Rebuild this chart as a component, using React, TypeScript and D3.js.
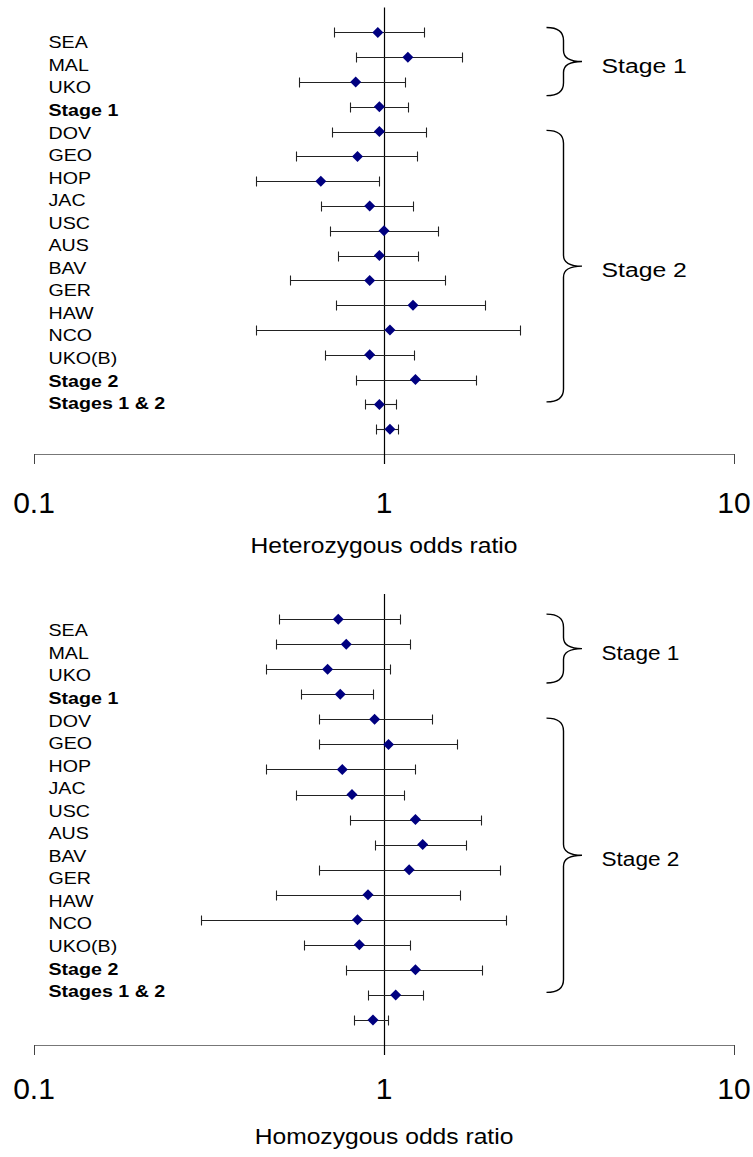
import React from "react";
import * as d3 from "d3";

const labels = ["SEA", "MAL", "UKO", "Stage 1", "DOV", "GEO", "HOP", "JAC", "USC", "AUS", "BAV", "GER", "HAW", "NCO", "UKO(B)", "Stage 2", "Stages 1 & 2"];
const boldLabels = ["Stage 1", "Stage 2", "Stages 1 & 2"];

const hetOR = [0.96, 1.17, 0.83, 0.97, 0.97, 0.84, 0.66, 0.91, 1.0, 0.97, 0.91, 1.21, 1.04, 0.91, 1.23, 0.97, 1.04];
const hetLo = [0.72, 0.83, 0.57, 0.8, 0.71, 0.56, 0.43, 0.66, 0.7, 0.74, 0.54, 0.73, 0.43, 0.68, 0.83, 0.88, 0.95];
const hetHi = [1.3, 1.67, 1.15, 1.17, 1.32, 1.24, 0.97, 1.21, 1.43, 1.25, 1.49, 1.94, 2.44, 1.22, 1.83, 1.08, 1.1];

const homOR = [0.74, 0.78, 0.69, 0.75, 0.94, 1.03, 0.76, 0.81, 1.23, 1.29, 1.18, 0.9, 0.84, 0.85, 1.23, 1.08, 0.93];
const homLo = [0.5, 0.49, 0.46, 0.58, 0.65, 0.65, 0.46, 0.56, 0.8, 0.94, 0.65, 0.49, 0.3, 0.59, 0.78, 0.9, 0.82];
const homHi = [1.11, 1.19, 1.04, 0.93, 1.37, 1.62, 1.23, 1.14, 1.89, 1.72, 2.14, 1.65, 2.23, 1.19, 1.9, 1.29, 1.03];

const tickValues = [0.1, 1, 10];
const tickLabels = ["0.1", "1", "10"];
// brace extents in row units (row 0 = first point row)
const groups = [
  { name: "Stage 1", start: -0.2, end: 2.55 },
  { name: "Stage 2", start: 3.95, end: 14.9 },
];

const FONT = "'Liberation Sans', Arial, Helvetica, sans-serif";

const x = d3.scaleLog().domain([0.1, 10]).range([34, 734]);

function T(props: any) {
  const { x, y, sx = 1, size, weight = "normal", anchor = "start", children } = props;
  return (
    <text
      transform={`translate(${x},${y}) scale(${sx},1)`}
      fontFamily={FONT}
      fontSize={size}
      fontWeight={weight}
      textAnchor={anchor}
      fill="#000"
    >
      {children}
    </text>
  );
}

function bracePath(left: number, stroke: number, tip: number, top: number, bottom: number, mid: number) {
  const r = 13;
  const r2 = 11;
  const p = d3.path();
  p.moveTo(left, top);
  p.quadraticCurveTo(stroke, top, stroke, top + r);
  p.lineTo(stroke, mid - r2);
  p.quadraticCurveTo(stroke, mid, tip, mid);
  p.quadraticCurveTo(stroke, mid, stroke, mid + r2);
  p.lineTo(stroke, bottom - r);
  p.quadraticCurveTo(stroke, bottom, left, bottom);
  return p.toString();
}

function Panel(props: any) {
  const { or, lo, hi, axisY, step, labelY0, labelStep, title, groupTextSize, groupSx, tickLabelOffset } = props;
  const n = labels.length;
  const y = d3.scaleLinear().domain([0, n + 1]).range([axisY, axisY - (n + 1) * step]);
  const rowY = (i: number) => y(n - i);
  const cx = Math.round(x(1)) + 0.5;
  return (
    <g>
      {labels.map((l, i) => (
        <T
          key={l}
          x={48.5}
          y={labelY0 + i * labelStep}
          sx={1.19}
          size={16.5}
          weight={boldLabels.includes(l) ? "bold" : "normal"}
        >
          {l}
        </T>
      ))}
      {/* axis */}
      <line x1={x(0.1)} x2={x(10)} y1={axisY + 0.5} y2={axisY + 0.5} stroke="#777" strokeWidth={1.2} />
      {tickValues.map((t) => (
        <line key={t} x1={Math.round(x(t)) + 0.5} x2={Math.round(x(t)) + 0.5} y1={axisY} y2={axisY + 10} stroke="#444" strokeWidth={1} />
      ))}
      <line x1={cx} x2={cx} y1={y(n + 1)} y2={axisY + 10} stroke="#000" strokeWidth={1.2} />
      {tickValues.map((t, i) => (
        <T key={"l" + t} x={x(t)} y={axisY + tickLabelOffset} size={30} anchor="middle">
          {tickLabels[i]}
        </T>
      ))}
      <T x={x(1)} y={axisY + 99} size={22.4} sx={1.1} anchor="middle">
        {title}
      </T>
      {/* error bars */}
      {labels.map((l, i) => {
        const yy = Math.round(rowY(i)) + 0.5;
        const a = Math.round(x(lo[i])) + 0.5;
        const b = Math.round(x(hi[i])) + 0.5;
        return (
          <g key={"e" + l}>
            <line x1={a} x2={b} y1={yy} y2={yy} stroke="#222" strokeWidth={1.1} />
            <line x1={a} x2={a} y1={yy - 5} y2={yy + 5} stroke="#222" strokeWidth={1.1} />
            <line x1={b} x2={b} y1={yy - 5} y2={yy + 5} stroke="#222" strokeWidth={1.1} />
          </g>
        );
      })}
      {labels.map((l, i) => {
        const px = x(or[i]);
        const py = rowY(i);
        return (
          <path
            key={"d" + l}
            d={`M${px},${py - 5.5}L${px + 5.5},${py}L${px},${py + 5.5}L${px - 5.5},${py}Z`}
            fill="#000080"
          />
        );
      })}
      {/* braces */}
      {groups.map((g) => {
        const top = rowY(g.start);
        const bottom = rowY(g.end);
        const mid = (top + bottom) / 2;
        return (
          <g key={g.name}>
            <path d={bracePath(546.5, 563.5, 582, top, bottom, mid)} fill="none" stroke="#000" strokeWidth={1.4} />
            <T x={601.5} y={mid + 11} size={groupTextSize} sx={groupSx}>
              {g.name}
            </T>
          </g>
        );
      })}
    </g>
  );
}

export default function App() {
  return (
    <svg
      width={753}
      height={1157}
      style={{ position: "absolute", left: 0, top: 0, background: "#fff" }}
    >
      <rect width={753} height={1157} fill="#fff" />
      <Panel
        or={hetOR}
        lo={hetLo}
        hi={hetHi}
        axisY={454}
        step={24.8}
        labelY0={48.3}
        labelStep={22.55}
        title="Heterozygous odds ratio"
        groupTextSize={21}
        groupSx={1.18}
        tickLabelOffset={59}
      />
      <Panel
        or={homOR}
        lo={homLo}
        hi={homHi}
        axisY={1045}
        step={25.05}
        labelY0={636.3}
        labelStep={22.55}
        title="Homozygous odds ratio"
        groupTextSize={19.5}
        groupSx={1.16}
        tickLabelOffset={54}
      />
    </svg>
  );
}
